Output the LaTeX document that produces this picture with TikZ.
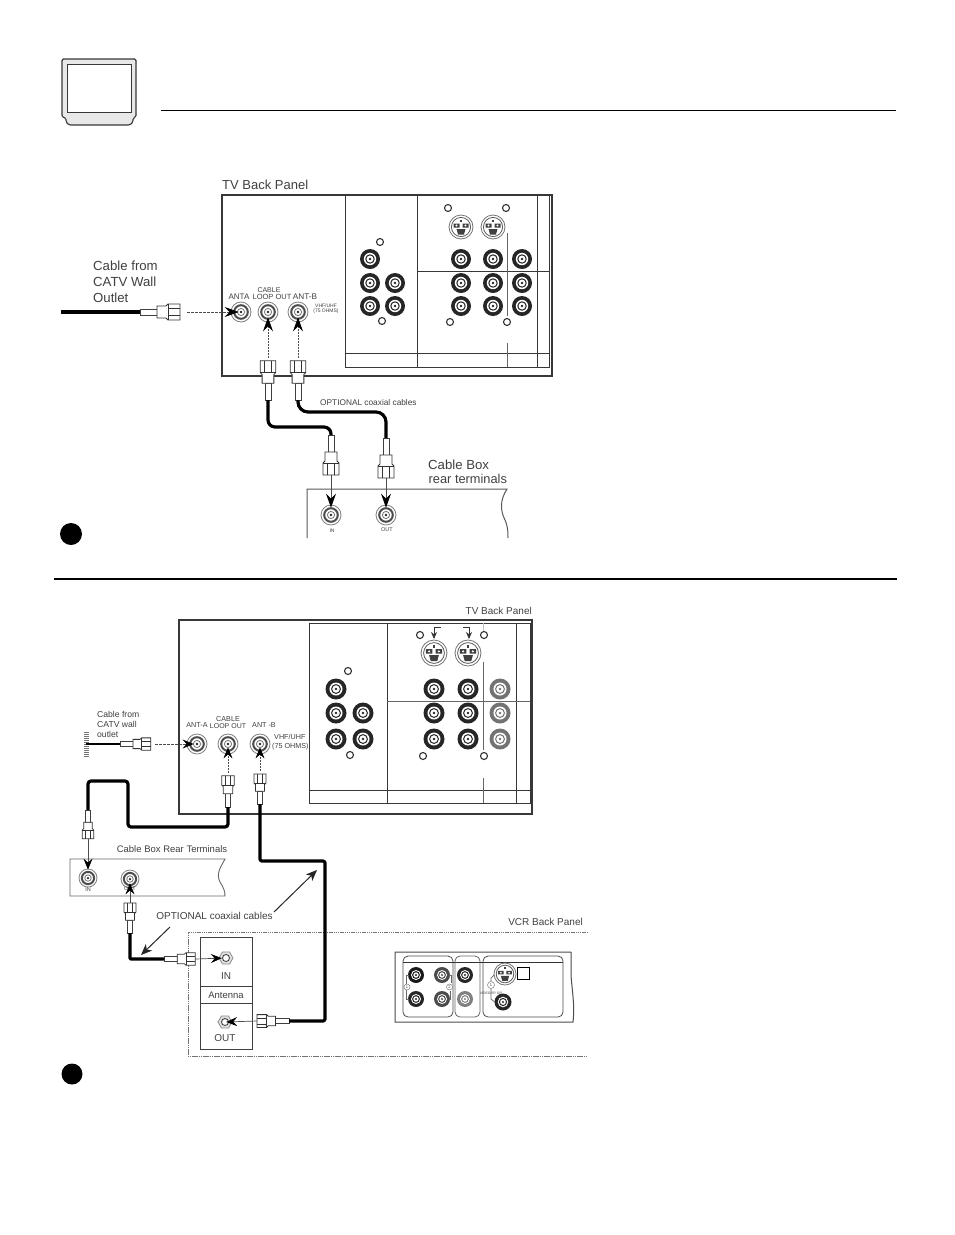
\documentclass[tikz,border=0pt]{standalone}
\usepackage{fontspec}
\setmainfont{Liberation Sans}
\usetikzlibrary{arrows.meta,calc}
\definecolor{ink}{gray}{0.22}
\definecolor{txt}{gray}{0.25}
\tikzset{
  panel/.style={draw=ink,line width=1.4pt},
  inner/.style={draw=ink,line width=1pt},
  thinln/.style={draw=black!60,line width=.9pt},
  cable/.style={draw=black,line width=3.2pt,line join=round,rounded corners=3pt},
  pointer/.style={draw=black!70,line width=.7pt,-{Stealth[length=14pt,width=10pt,inset=5pt,color=black]},shorten >=-5pt},
  pointerS/.style={draw=black!70,line width=.7pt,-{Stealth[length=11pt,width=9pt,inset=4pt,color=black]},shorten >=-7pt},
  longarrow/.style={draw=black!85,line width=1pt,-{Stealth[length=11pt,width=9pt,inset=3pt]}},
  lbl/.style={inner sep=0pt,text=txt,align=center},
  lblL/.style={inner sep=0pt,text=txt,align=left,anchor=west},
  jack/.style={circle,inner sep=0pt,draw=none},
  hole/.style={draw=black!80,fill=white,line width=1.1pt},
  fs/.style={font=\fontsize{#1}{#1}\selectfont},
}
% name x y outer-radius colour
\newcommand\rcajack[5]{%
  \node[jack,fill=#5,minimum size=#4*2pt] (#1) at (#2,#3) {};
  \fill[white] (#1) circle (#4*0.62pt);
  \draw[#5,line width=1pt] (#1) circle (#4*0.42pt);
  \fill[#5] (#1) circle (#4*0.14pt);
}
% name x y radius : threaded antenna jack
\newcommand\antjack[4]{%
  \node[jack,draw=black!50,fill=white,line width=.8pt,minimum size=#4*2pt] (#1) at (#2,#3) {};
  \draw[black!70,line width=2pt] (#1) circle (#4*0.68pt);
  \draw[black!55,line width=.8pt] (#1) circle (#4*0.36pt);
  \fill[black!85] (#1) circle (#4*0.14pt);
}
% name x y radius : S-video
\newcommand\svideo[4]{%
  \node[jack,draw=black!55,fill=white,line width=.8pt,minimum size=#4*2pt] (#1) at (#2,#3) {};
  \draw[black!65,line width=.8pt] (#1) circle (#4*0.8pt);
  \begin{scope}[shift={(#1)},scale=#4/12]
    \fill[black!75] (-7.5,-3.5) rectangle (-1.5,0.5) (1.5,-3.5) rectangle (7.5,0.5);
    \fill[black!75] (-1.3,-7.5) rectangle (1.3,-5);
    \fill[black!75] (-4.5,2) -- (4.5,2) -- (3,7.5) -- (-3,7.5) -- cycle;
    \fill[white] (-4.5,-1.5) circle (1.1pt) (4.5,-1.5) circle (1.1pt);
  \end{scope}
}
% name x y : small ring
\newcommand\ring[3]{\node[jack,hole,minimum size=7pt] (#1) at (#2,#3) {};}
% name x y angle scale : connector, tail at x,y, tip along +x
\newcommand\conn[5]{%
  \begin{scope}[shift={(#2,#3)},rotate=#4,scale=#5]
    \draw[black!75,fill=white,line width=.7pt] (0,-3) rectangle (17,3);
    \draw[black!80,fill=white,line width=.8pt] (17,-6) -- (26,-6) -- (28,-8) -- (40,-8) -- (40,8) -- (28,8) -- (26,6) -- (17,6) -- cycle;
    \draw[black!80,line width=.6pt] (28,-8) -- (28,8) (28,-3.5) -- (40,-3.5) (28,3.5) -- (40,3.5);
    \coordinate (#1t) at (0,0);
    \coordinate (#1h) at (40,0);
  \end{scope}
}
% name x y radius : small hex jack
\newcommand\hexjack[4]{%
  \node[jack,minimum size=#4*2pt] (#1) at (#2,#3) {};
  \draw[black!45,fill=black!12,line width=.8pt] ($(#1)+(0:#4)$) -- ($(#1)+(60:#4)$) -- ($(#1)+(120:#4)$) -- ($(#1)+(180:#4)$) -- ($(#1)+(240:#4)$) -- ($(#1)+(300:#4)$) -- cycle;
  \draw[black!80,fill=white,line width=.8pt] (#1) circle (#4*0.5pt);
}
\begin{document}
\begin{tikzpicture}[x=1pt,y=-1pt]
\useasboundingbox (0,0) rectangle (954,1235);
\fill[white] (0,0) rectangle (954,1235);

% ---------- header ----------
\draw[draw=ink,fill=black!9,line width=1.1pt,rounded corners=1.5pt]
  (62,59) -- (136,59) -- (136,117) -- (133,118) -- (133,122) -- (130,125) -- (69,125) -- (66,122) -- (66,118) -- (62,117) -- cycle;
\draw[draw=ink,fill=white,line width=1pt] (67,64) rectangle (131,112);
\draw[black,line width=.8pt] (161,110) -- (896,110);

% ---------- upper TV panel ----------
\node[lblL,fs=13] (t1) at (222,185) {TV Back Panel};
\draw[panel] (222,195) rectangle (552,376);
\draw[inner] (345,195) -- (345,367) -- (549,367) -- (549,195);
\draw[inner] (345,353) -- (549,353);
\draw[inner] (417,195) -- (417,367);
\draw[inner] (537,195) -- (537,367);
\draw[inner] (417,271) -- (549,271);
\draw[thinln] (507,233) -- (507,316) (507,343) -- (507,367);

\rcajack{ua}{370}{259}{10}{black!85}
\rcajack{ub}{370}{283}{10}{black!85}
\rcajack{uc}{395}{283}{10}{black!85}
\rcajack{ud}{370}{306}{10}{black!85}
\rcajack{ue}{395}{306}{10}{black!85}
\foreach \n/\x/\y in {a/461/259,b/493/259,c/522/259,d/461/283,e/493/283,f/522/283,g/461/306,h/493/306,i/522/306}
  {\rcajack{v\n}{\x}{\y}{10}{black!85}}
\svideo{us1}{461}{227}{12}
\svideo{us2}{493}{227}{12}
\ring{ur1}{380}{242}
\ring{ur2}{382}{321}
\ring{ur3}{448}{208}
\ring{ur4}{506}{208}
\ring{ur5}{450}{322}
\ring{ur6}{507}{322}

\antjack{uanta}{241}{312}{10}
\antjack{uloop}{268}{312}{10}
\antjack{uantb}{298}{312}{10}
\node[lbl,fs=8] (l1) at (239,297) {ANTA};
\node[lbl,fs=7] (l2) at (269,290) {CABLE};
\node[lbl,fs=7.5] (l3) at (272,297) {LOOP OUT};
\node[lbl,fs=8.2] (l4) at (305,297) {ANT-B};
\node[lbl,fs=5] (l5) at (326,308.5) {VHF/UHF\\[0pt](75 OHMS)};

\node[lblL,fs=13.2] (l6) at (93,266) {Cable from};
\node[lblL,fs=13.2] (l7) at (93,282) {CATV Wall};
\node[lblL,fs=13.2] (l8) at (93,298) {Outlet};

\coordinate (wall1) at (61,312);
\conn{ca}{140}{312}{0}{1}
\draw[line width=3.6pt,black] (wall1) -- (cat);
\coordinate (ca2) at (187,312);
\draw[pointer,dash pattern=on 3pt off 1pt,shorten >=-8pt] (ca2) -- (uanta);

\conn{cb}{268}{400}{90}{.98}
\conn{cc}{298}{400}{90}{.98}
\draw[pointer,dash pattern=on 2pt off 1pt] (cbh)+(0,-3) -- (uloop);
\draw[pointer,dash pattern=on 2pt off 1pt] (cch)+(0,-3) -- (uantb);

\conn{cd}{331}{435}{-90}{1}
\conn{ce}{386}{438}{-90}{1}
\draw[cable,rounded corners=7pt] (cbt) -- (268,427) -- (331,427) -- (cdt);
\draw[cable,rounded corners=10pt] (cct) -- (298,412) -- (386,412) -- (cet);

\node[lblL,fs=8.3] (l9) at (320,403) {OPTIONAL coaxial cables};
\node[lblL,fs=13.2] (l10) at (428,465) {Cable Box};
\node[lblL,fs=12.8] (l11) at (428.5,479) {rear terminals};

\draw[draw=black!65,line width=1pt] (307,538) -- (307,489) -- (507,489)
  .. controls (500,500) and (500,510) .. (505,520) .. controls (508,527) and (508,532) .. (508,538);
\antjack{uin}{331}{515}{10}
\antjack{uout}{386}{515}{10}
\draw[pointer,shorten >=-3pt] (cdh) -- (uin);
\draw[pointer,shorten >=-3pt] (ceh) -- (uout);
\node[lbl,fs=5] (l12) at (332,531) {IN};
\node[lbl,fs=5.5] (l13) at (387,530) {OUT};

\fill[black] (71,534) circle (11pt);
\draw[black,line width=1.8pt] (54,579) -- (897,579);

% ---------- lower TV panel ----------
\node[lbl,fs=10,anchor=east] (t2) at (532,611) {TV Back Panel};
\draw[panel] (179,620) -- (532,620) -- (532,814) -- (179,814) -- cycle;
\draw[inner] (309,623) -- (530,623) -- (530,803) -- (309,803) -- cycle;
\draw[inner] (309,790) -- (530,790);
\draw[inner] (387,623) -- (387,803);
\draw[inner] (516,623) -- (516,803);
\draw[thinln] (387,701) -- (530,701);
\draw[thinln] (483,662) -- (483,750) (483,778) -- (483,803);
\draw[black!25,line width=.7pt] (483,623) -- (483,631);

\rcajack{wa}{336}{689}{10.5}{black!85}
\rcajack{wb}{336}{713}{10.5}{black!85}
\rcajack{wc}{363}{713}{10.5}{black!85}
\rcajack{wd}{336}{739}{10.5}{black!85}
\rcajack{we}{363}{739}{10.5}{black!85}
\foreach \n/\x/\y/\c in {a/434/689/85,b/468/689/85,c/500/689/55,d/434/713/85,e/468/713/85,f/500/713/55,g/434/739/85,h/468/739/85,i/500/739/55}
  {\rcajack{x\n}{\x}{\y}{10.5}{black!\c}}
\svideo{ws1}{434}{653}{13}
\svideo{ws2}{468}{653}{13}
\ring{wr1}{348}{671}
\ring{wr2}{350}{755}
\ring{wr3}{420}{635}
\ring{wr4}{484}{635}
\ring{wr5}{423}{756}
\ring{wr6}{484}{756}
\coordinate (ba1) at (441,627);
\coordinate (ba2) at (434,627);
\coordinate (ba3) at (434,639);
\draw[black!80,line width=.8pt,-{Stealth[length=7pt,width=6pt]}] (ba1) -- (ba2) -- (ba3);
\coordinate (bb1) at (463,627);
\coordinate (bb2) at (469,627);
\coordinate (bb3) at (469,639);
\draw[black!80,line width=.8pt,-{Stealth[length=7pt,width=6pt]}] (bb1) -- (bb2) -- (bb3);

\antjack{wanta}{197}{744}{10}
\antjack{wloop}{228}{744}{10}
\antjack{wantb}{260}{744}{10}
\node[lbl,fs=7.2] (m1) at (197,725) {ANT-A};
\node[lbl,fs=7.2] (m2) at (228,719) {CABLE};
\node[lbl,fs=7] (m3) at (228,726) {LOOP OUT};
\node[lbl,fs=7.2] (m4) at (264,725) {ANT -B};
\node[lblL,fs=7.2] (m5) at (274,737) {VHF/UHF};
\node[lblL,fs=7.2] (m6) at (272,747) {(75 OHMS)};

\node[lblL,fs=8.6] (m7) at (97,714) {Cable from};
\node[lblL,fs=8.6] (m8) at (97,724) {CATV wall};
\node[lblL,fs=8.6] (m9) at (97,734) {outlet};

\coordinate (wall2) at (86,744);
\foreach \dy in {-12,-10,...,13} {\draw[black!55,line width=.9pt] (83.5,744+\dy) -- (89,744+\dy);}
\conn{da}{120}{744}{0}{.77}
\draw[line width=2.6pt,black] (wall2) -- (dat);
\coordinate (da2) at (155,744);
\draw[pointerS,dash pattern=on 3pt off 1pt] (da2) -- (wanta);

\conn{db}{228}{807}{90}{.78}
\conn{dc}{260}{804}{90}{.75}
\draw[pointerS,dash pattern=on 2pt off 1pt] (dbh)+(0,-3) -- (wloop);
\draw[pointerS,dash pattern=on 2pt off 1pt] (dch)+(0,-3) -- (wantb);

% cable box, lower
\node[lbl,fs=9.5] (m10) at (172,849) {Cable Box Rear Terminals};
\draw[draw=black!60,line width=.9pt] (70,859) -- (225,859)
  .. controls (220,868) and (216,874) .. (220,882) .. controls (224,888) and (225,892) .. (225,896) -- (70,896) -- cycle;
\antjack{win}{88}{878}{9}
\antjack{wout}{130}{879}{9}
\node[lbl,fs=5.5] (m11) at (88,890) {IN};
\node[lbl,fs=5.5] (m12) at (130,889) {OUT};

\conn{dd}{88}{810}{-90}{.72}
\draw[pointerS,shorten >=-1pt] (ddh) -- (win);
\draw[cable] (dbt) -- (228,827) -- (128,827) -- (128,781) -- (88,781) -- (ddt);

\conn{de}{130}{933}{90}{.75}
\draw[pointerS,shorten >=-5pt] (deh) -- (wout);

% VCR panel
\node[lbl,fs=10,anchor=east] (m13) at (583,922) {VCR Back Panel};
\draw[draw=black!55,line width=1pt,dash pattern=on 1.5pt off .7pt] (588,932) -- (188,932) -- (188,1056) -- (588,1056);
\draw[draw=black!75,line width=1pt] (200,937) rectangle (252,1049);
\draw[draw=black!75,line width=1pt] (200,986) -- (252,986) (200,1003) -- (252,1003);
\node[lbl,fs=10] (m14) at (226,976) {IN};
\node[lbl,fs=9.5] (m15) at (226,995) {Antenna};
\node[lbl,fs=10] (m16) at (225,1038) {OUT};
\hexjack{vin}{226}{958}{7}
\hexjack{vout}{225}{1022}{7}

\conn{df}{164}{959}{0}{.78}
\conn{dg}{289}{1021}{180}{.8}
\draw[cable,rounded corners=1pt] (det) -- (130,959) -- (dft);
\draw[cable,rounded corners=2pt] (dct) -- (260,861) -- (325,861) -- (325,1021) -- (dgt);
\draw[pointerS,shorten >=-3pt] (dfh) -- (vin);
\draw[pointerS,shorten >=-6pt] (dgh) -- (vout);

\node[lbl,fs=10] (m17) at (214.5,916) {OPTIONAL coaxial cables};
\coordinate (p1) at (274,912);
\coordinate (p2) at (317,870);
\coordinate (p3) at (170,927);
\coordinate (p4) at (141,955);
\draw[longarrow] (p1) -- (p2);
\draw[longarrow] (p3) -- (p4);

% VCR jack strip
\draw[draw=black!70,line width=1pt] (571,952) -- (395,952) -- (395,1022) -- (573,1022)
  .. controls (575,1005) and (572,990) .. (571,975) -- (571,952);
\draw[black!70,line width=.8pt,rounded corners=5pt] (403,956) rectangle (453,1017);
\draw[black!60,line width=.8pt,rounded corners=5pt] (455,956) rectangle (480,1017);
\draw[black!70,line width=.8pt,rounded corners=5pt] (483,956) rectangle (563,1017);
\draw[black!80,line width=.8pt] (403,962) -- (563,962);
\rcajack{ya}{416}{975}{8}{black!90}
\rcajack{yb}{442}{975}{8}{black!70}
\rcajack{yc}{465}{975}{8}{black!85}
\rcajack{yd}{416}{999}{8}{black!85}
\rcajack{ye}{442}{999}{8}{black!70}
\rcajack{yf}{465}{999}{8}{black!50}
\svideo{ys}{505}{974}{11}
\rcajack{yg}{503}{1002}{8.5}{black!85}
\draw[black,fill=white,line width=.8pt] (517,967) rectangle (529,979);
\draw[black!60,line width=.7pt] (409,975) -- (406,975) -- (406,999) -- (409,999);
\draw[black!60,line width=.7pt] (449,975) -- (451,975) -- (451,983) (449,999) -- (450,999) -- (450,991);
\draw[black!60,line width=.7pt] (494,975) -- (491,978) -- (491,999) -- (495,1002);
\node[jack,draw=black!50,fill=white,line width=.5pt,minimum size=6pt,font=\fontsize{4}{4}\selectfont,text=txt] (yn1) at (407,987) {1};
\node[jack,draw=black!50,fill=white,line width=.5pt,minimum size=6pt,font=\fontsize{4}{4}\selectfont,text=txt] (yn2) at (449.5,987) {2};
\node[jack,draw=black!50,fill=white,line width=.5pt,minimum size=7pt,font=\fontsize{4}{4}\selectfont,text=txt] (yn3) at (491,985) {1};
\node[lbl,fs=3.4] (yt) at (491,993.5) {VIDEO/SP OR};

\fill[black] (72,1074) circle (10.5pt);
\end{tikzpicture}
\end{document}
